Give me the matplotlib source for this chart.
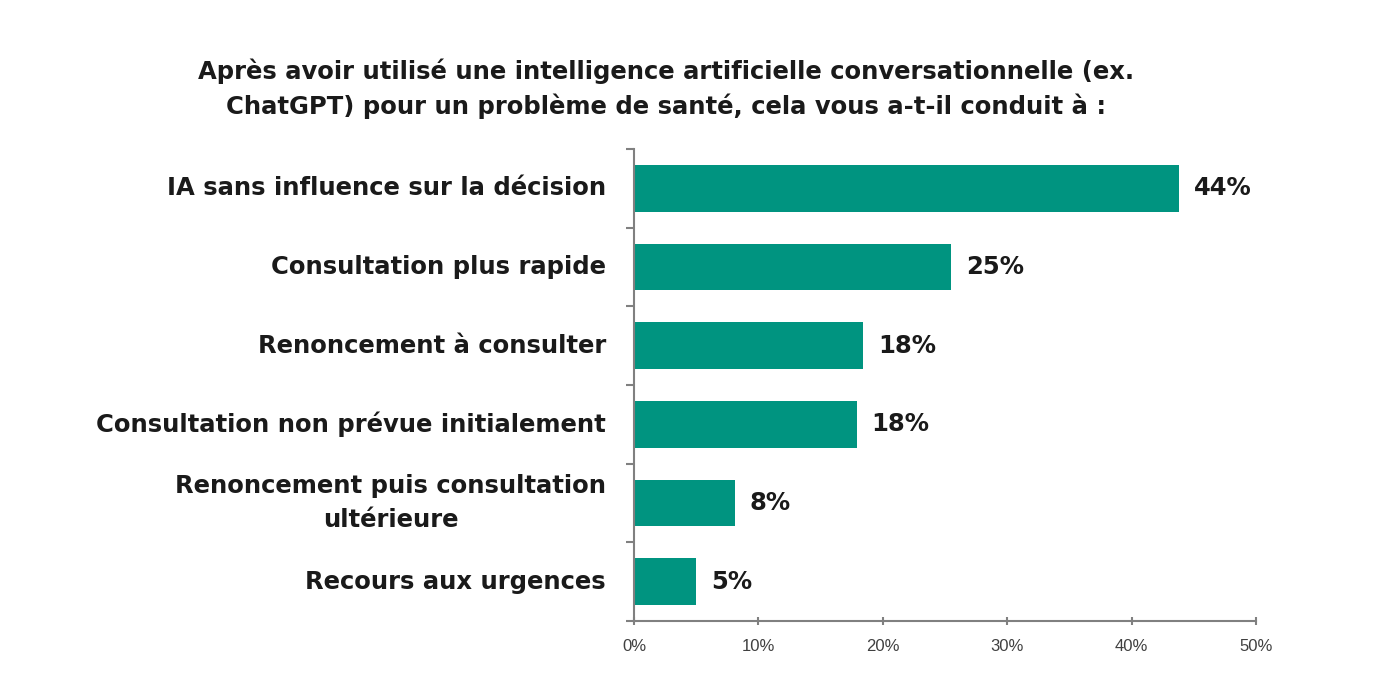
import matplotlib
matplotlib.use("Agg")
import matplotlib.pyplot as plt
from matplotlib.transforms import ScaledTranslation

categories = [
    "IA sans influence sur la décision",
    "Consultation plus rapide",
    "Renoncement à consulter",
    "Consultation non prévue initialement",
    "Renoncement puis consultation\nultérieure",
    "Recours aux urgences",
]
values = [43.8, 25.5, 18.4, 17.9, 8.1, 5.0]
value_labels = ["44%", "25%", "18%", "18%", "8%", "5%"]
xticks = [0, 10, 20, 30, 40, 50]
xtick_labels = ["0%", "10%", "20%", "30%", "40%", "50%"]
title = ("Après avoir utilisé une intelligence artificielle conversationnelle (ex.\n"
         "ChatGPT) pour un problème de santé, cela vous a-t-il conduit à :")

color = "#009480"
bold_font = "DejaVu Sans"

fig = plt.figure(figsize=(14, 6.94), dpi=100)
ax = fig.add_axes([634/1400, 1-621/694, (1256-634)/1400, (621-149)/694])

n = len(categories)
ypos = list(range(n))
ax.barh(ypos, values, height=0.59, color=color)
ax.set_ylim(n - 0.5, -0.5)
ax.set_xlim(0, 50)

ax.set_yticks(ypos)
ax.set_yticklabels([])
ax.tick_params(axis="y", length=0)
ax.set_yticks([i - 0.5 for i in range(n + 1)], minor=True)
ax.tick_params(axis="y", which="minor", length=6, color="#808080", width=1.5)

# category labels drawn as text at each category position, right-aligned
lab_offset = ScaledTranslation(-28/100, 0, fig.dpi_scale_trans)
for y, cat in zip(ypos, categories):
    ax.text(0, y, cat, transform=ax.get_yaxis_transform() + lab_offset,
            ha="right", va="center", multialignment="center",
            fontfamily=bold_font, fontweight="bold", fontsize=17.5,
            color="#1a1a1a", linespacing=1.55)

ax.set_xticks(xticks)
ax.set_xticklabels(xtick_labels, fontfamily="Liberation Sans", fontsize=12, color="#404040")
ax.tick_params(axis="x", length=6, direction="inout", color="#808080", width=1.5, pad=10)

for s in ["top", "right"]:
    ax.spines[s].set_visible(False)
for s in ["left", "bottom"]:
    ax.spines[s].set_color("#808080")
    ax.spines[s].set_linewidth(1.5)

for y, v, lab in zip(ypos, values, value_labels):
    ax.text(v + 1.2, y, lab, va="center", ha="left", fontfamily=bold_font,
            fontweight="bold", fontsize=17.5, color="#1a1a1a")

fig.text(666/1400, 1-89/694, title, ha="center", va="center", fontfamily=bold_font,
         fontweight="bold", fontsize=17.5, color="#1a1a1a", linespacing=1.45)

fig.savefig("out.png", dpi=100, facecolor="white")
